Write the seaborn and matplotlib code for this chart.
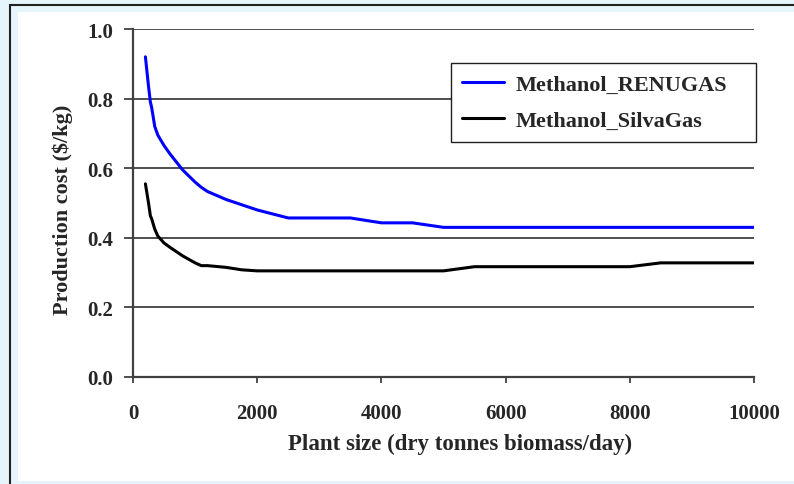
import matplotlib
matplotlib.use("Agg")
import matplotlib.pyplot as plt
import seaborn as sns
import pandas as pd
from matplotlib.patches import Rectangle

sizes_renugas = [200, 250, 280, 300, 350, 400, 500, 600, 800, 1000, 1100, 1200, 1500, 1750, 2000,
                 2500, 3000, 3500, 4000, 4500, 5000, 5500, 6000, 6500, 7000, 7500, 8000, 8500,
                 9000, 9500, 10000]
cost_renugas = [0.92, 0.835, 0.79, 0.775, 0.72, 0.695, 0.665, 0.64, 0.595, 0.56, 0.545, 0.533, 0.51,
                0.495, 0.48, 0.457, 0.457, 0.457, 0.443, 0.443, 0.430, 0.430, 0.430, 0.430, 0.430,
                0.430, 0.430, 0.430, 0.430, 0.430, 0.430]
sizes_silvagas = [200, 250, 280, 300, 350, 400, 500, 600, 800, 1000, 1100, 1200, 1500, 1750, 2000,
                  2500, 3000, 3500, 4000, 4500, 5000, 5500, 6000, 6500, 7000, 7500, 8000, 8500,
                  9000, 9500, 10000]
cost_silvagas = [0.555, 0.50, 0.463, 0.455, 0.425, 0.405, 0.385, 0.372, 0.348, 0.328, 0.320, 0.320,
                 0.315, 0.308, 0.305, 0.305, 0.305, 0.305, 0.305, 0.305, 0.305, 0.317, 0.317, 0.317,
                 0.317, 0.317, 0.317, 0.328, 0.328, 0.328, 0.328]
series_names = ["Methanol_RENUGAS", "Methanol_SilvaGas"]
x_ticks = [0, 2000, 4000, 6000, 8000, 10000]
y_ticks = [0.0, 0.2, 0.4, 0.6, 0.8, 1.0]

df = pd.concat([
    pd.DataFrame({"size": sizes_renugas, "cost": cost_renugas, "series": series_names[0]}),
    pd.DataFrame({"size": sizes_silvagas, "cost": cost_silvagas, "series": series_names[1]}),
])

sns.set_style("white")
plt.rcParams["font.family"] = ["Liberation Serif", "DejaVu Serif"]
plt.rcParams["font.weight"] = "bold"

W, H = 794, 485
fig = plt.figure(figsize=(W / 100, H / 100), dpi=100)
fig.patch.set_facecolor("#E6F5FC")

# white panel and outer frame
fig.patches.append(Rectangle((18 / W, 3 / H), 1.0, (482 - 13) / H, transform=fig.transFigure,
                             facecolor="white", edgecolor="none", zorder=-2))
fig.patches.append(Rectangle((9.5 / W, -0.2), 1.2, 1.2 - 5.5 / H, transform=fig.transFigure,
                             facecolor="none", edgecolor="#202020", lw=1.5, zorder=-1))

ax = fig.add_axes([133 / W, (H - 378) / H, (754 - 133) / W, (378 - 30) / H])
ax.set_facecolor("none")

sns.lineplot(data=df, x="size", y="cost", hue="series", palette=["#0000FF", "#000000"],
             linewidth=2.2, ax=ax, sort=False)

ax.set_xlim(0, 10000)
ax.set_ylim(0, 1.0)
ax.set_xticks(x_ticks)
ax.set_yticks(y_ticks)
ax.set_xticklabels([str(t) for t in x_ticks])
ax.set_yticklabels([f"{t:.1f}" for t in y_ticks])
ax.yaxis.grid(True, color="#404040", lw=1.3)
ax.xaxis.grid(False)
ax.set_axisbelow(True)
for s in ["top", "right"]:
    ax.spines[s].set_visible(False)
for s in ["left", "bottom"]:
    ax.spines[s].set_color("#404040")
    ax.spines[s].set_linewidth(1.6)
ax.tick_params(axis="y", length=6.5, width=1.3, color="#404040", direction="out", pad=8,
               labelsize=15, left=True)
ax.tick_params(axis="x", length=4.5, width=1.3, color="#404040", direction="out", pad=14,
               labelsize=15, bottom=True)
for lab in ax.get_xticklabels() + ax.get_yticklabels():
    lab.set_fontweight("bold")

ax.set_xlabel("Plant size (dry tonnes biomass/day)", fontsize=16.5, fontweight="bold")
ax.set_ylabel("Production cost ($/kg)", fontsize=16, fontweight="bold")
ax.xaxis.set_label_coords((460 - 133) / 621, (378 - 434) / 348)
ax.yaxis.set_label_coords((73 - 133) / 621, (378 - 210) / 348)

x0 = (451 - 133) / (754 - 133)
y1 = (378 - 64) / 348
wl = (756 - 451) / (754 - 133)
hl = (143 - 64) / 348
leg = ax.legend(loc="upper left", bbox_to_anchor=(x0, y1 - hl, wl, hl), mode="expand",
                frameon=True, fancybox=False, shadow=False, fontsize=16, handlelength=1.9,
                borderpad=0.5, labelspacing=0.72, handletextpad=0.5, borderaxespad=0,
                framealpha=1.0)
leg.get_frame().set_edgecolor("#202020")
leg.get_frame().set_facecolor("white")
leg.get_frame().set_linewidth(1.0)
for t in leg.get_texts():
    t.set_fontweight("bold")

fig.savefig("out.png", dpi=100, facecolor=fig.get_facecolor())
